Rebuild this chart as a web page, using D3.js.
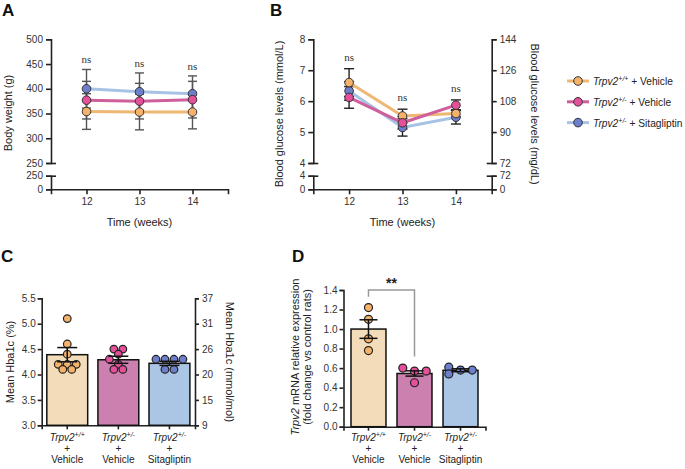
<!DOCTYPE html>
<html>
<head>
<meta charset="utf-8">
<script src="https://cdn.jsdelivr.net/npm/d3@7"></script>
<style>
body { margin: 0; background: #fff; }
svg text { font-family: "Liberation Sans", Arial, sans-serif; fill: #222; }
.axis path, .axis line { stroke: #222; stroke-width: 1.6; }
.axis text { font-size: 10px; fill: #333; }
.ns { font-family: "Liberation Serif", "DejaVu Serif", serif !important; font-size: 11px; fill: #333; }
</style>
</head>
<body>
<div id="vis"></div>
<script>
// ---- data ----
var weeks = [12, 13, 14];

var weightWt = [354, 353, 353], weightWtErr = [36, 36, 34];
var weightHet = [377, 375, 378], weightHetErr = [38, 36, 37];
var weightSita = [400, 394, 390], weightSitaErr = [39, 38, 36];
var weightTicks = [250, 300, 350, 400, 450, 500];

var glucoseWt = [6.6, 5.52, 5.6], glucoseWtErr = [0.45, 0.22, 0.12];
var glucoseHet = [6.12, 5.3, 5.87], glucoseHetErr = [0.35, 0.2, 0.17];
var glucoseSita = [6.33, 5.15, 5.48], glucoseSitaErr = [0.3, 0.28, 0.22];
var glucoseTicks = [4, 5, 6, 7, 8];
var mgPerMmol = 18;

var groupSup = ['+/+', '+/-', '+/-'];
var groupTreat = ['Vehicle', 'Vehicle', 'Sitagliptin'];

var hbaMean = [4.39, 4.29, 4.22], hbaSem = [0.14, 0.07, 0.04];
var hbaWt = [5.1, 4.6, 4.4, 4.2, 4.2, 4.2, 4.1, 4.1];
var hbaHet = [4.5, 4.5, 4.4, 4.3, 4.2, 4.1, 4.1];
var hbaSita = [4.3, 4.3, 4.3, 4.3, 4.1, 4.1];
var hbaTicks = [3.0, 3.5, 4.0, 4.5, 5.0, 5.5];
var hbaMmolTicks = [9, 15, 20, 26, 31, 37];

var mrnaMean = [1.0, 0.545, 0.578], mrnaSem = [0.095, 0.027, 0.015];
var mrnaWt = [1.22, 1.1, 0.9, 0.78];
var mrnaHet = [0.6, 0.57, 0.57, 0.45];
var mrnaSita = [0.61, 0.58, 0.58, 0.54];
var mrnaTicks = [0, 0.2, 0.4, 0.6, 0.8, 1.0, 1.2, 1.4];

// ---- colours ----
var lineCol = ['#efb774', '#cf5f9c', '#a6c3e6'];
var dotCol = ['#f5b26b', '#e4509a', '#6d7fcb'];
var barCol = ['#f2dcb9', '#cc80b0', '#aac6e4'];

var svg = d3.select('#vis').append('svg')
	.attr('width', 685)
	.attr('height', 469);

function letter(x, y, t) {
	svg.append('text').attr('x', x).attr('y', y)
		.style('font-size', '17px').style('font-weight', 'bold').style('fill', '#111')
		.text(t);
}

function rotLabel(x, y, angle, t) {
	return svg.append('text')
		.attr('transform', 'translate(' + x + ',' + y + ') rotate(' + angle + ')')
		.attr('text-anchor', 'middle')
		.style('font-size', '11px')
		.text(t);
}

function capTick(axisG, value) {
	axisG.selectAll('.tick').filter(function(d) { return d === value; })
		.select('line').attr('x1', -5).attr('x2', 5);
}

// ---------------- line panels (A, B) ----------------
function linePanel(opt) {
	var x = d3.scaleLinear().domain([11.33, 14.67]).range([opt.left, opt.right]);
	var yTop = d3.scaleLinear().domain(opt.upper).range([163, 39.3]);
	var yLow = d3.scaleLinear().domain([0, opt.upper[0]]).range([189.3, 175.7]);
	var fmt = d3.format('d');

	var ax = svg.append('g').attr('class', 'axis')
		.attr('transform', 'translate(' + opt.left + ',0)')
		.call(d3.axisLeft(yTop).tickValues(opt.ticks).tickFormat(fmt).tickSizeOuter(0).tickSize(5).tickPadding(3));
	capTick(ax, opt.upper[0]);
	var ax2 = svg.append('g').attr('class', 'axis')
		.attr('transform', 'translate(' + opt.left + ',0)')
		.call(d3.axisLeft(yLow).tickValues([0, opt.upper[0]]).tickFormat(fmt).tickSizeOuter(0).tickSize(5).tickPadding(3));
	capTick(ax2, opt.upper[0]);

	if (opt.rightFmt) {
		var ar = svg.append('g').attr('class', 'axis')
			.attr('transform', 'translate(' + opt.right + ',0)')
			.call(d3.axisRight(yTop).tickValues(opt.ticks).tickSizeOuter(0).tickSize(5).tickPadding(3).tickFormat(opt.rightFmt));
		capTick(ar, opt.upper[0]);
		var ar2 = svg.append('g').attr('class', 'axis')
			.attr('transform', 'translate(' + opt.right + ',0)')
			.call(d3.axisRight(yLow).tickValues([0, opt.upper[0]]).tickSizeOuter(0).tickSize(5).tickPadding(3).tickFormat(opt.rightFmt));
		capTick(ar2, opt.upper[0]);
	}

	svg.append('g').attr('class', 'axis')
		.attr('transform', 'translate(0,189.3)')
		.call(d3.axisBottom(x).tickValues(weeks).tickSizeOuter(0).tickSize(5).tickPadding(4).tickFormat(fmt));

	svg.append('text')
		.attr('x', x(13)).attr('y', 225.5)
		.attr('text-anchor', 'middle')
		.style('font-size', '11px')
		.text('Time (weeks)');

	var g = svg.append('g');
	var order = [2, 0, 1];

	// error bars
	order.forEach(function(s) {
		var ser = opt.series[s];
		weeks.forEach(function(w, i) {
			var cx = x(w), lo = yTop(ser.vals[i] - ser.errs[i]), hi = yTop(ser.vals[i] + ser.errs[i]);
			g.append('line').attr('x1', cx).attr('x2', cx).attr('y1', lo).attr('y2', hi)
				.attr('stroke', opt.errCol).attr('stroke-width', 1.4);
			[lo, hi].forEach(function(yy) {
				g.append('line').attr('x1', cx - opt.cap).attr('x2', cx + opt.cap).attr('y1', yy).attr('y2', yy)
					.attr('stroke', opt.errCol).attr('stroke-width', 1.4);
			});
		});
	});

	var line = d3.line()
		.x(function(d) { return x(d[0]); })
		.y(function(d) { return yTop(d[1]); });

	order.forEach(function(s) {
		var ser = opt.series[s];
		g.append('path')
			.datum(weeks.map(function(w, i) { return [w, ser.vals[i]]; }))
			.attr('d', line)
			.attr('fill', 'none')
			.attr('stroke', lineCol[s])
			.attr('stroke-width', 3);
	});
	order.forEach(function(s) {
		var ser = opt.series[s];
		g.selectAll(null)
			.data(weeks.map(function(w, i) { return [w, ser.vals[i]]; }))
			.enter().append('circle')
			.attr('cx', function(d) { return x(d[0]); })
			.attr('cy', function(d) { return yTop(d[1]); })
			.attr('r', 4.3)
			.attr('fill', dotCol[s])
			.attr('stroke', '#333')
			.attr('stroke-width', 1);
	});

	// ns labels above the highest cap
	weeks.forEach(function(w, i) {
		var top = d3.max(opt.series, function(ser) { return ser.vals[i] + ser.errs[i]; });
		svg.append('text').attr('class', 'ns')
			.attr('x', x(w)).attr('y', yTop(top) - opt.nsGap)
			.attr('text-anchor', 'middle')
			.text('ns');
	});
}

letter(2, 16, 'A');
linePanel({
	left: 51, right: 228,
	upper: [250, 500], ticks: weightTicks,
	series: [
		{ vals: weightWt, errs: weightWtErr },
		{ vals: weightHet, errs: weightHetErr },
		{ vals: weightSita, errs: weightSitaErr }
	],
	errCol: '#555', cap: 4.5, nsGap: 6
});
rotLabel(12, 113, -90, 'Body weight (g)');

letter(270, 16, 'B');
linePanel({
	left: 313.3, right: 491.7,
	upper: [4, 8], ticks: glucoseTicks,
	rightFmt: function(d) { return d * mgPerMmol; },
	series: [
		{ vals: glucoseWt, errs: glucoseWtErr },
		{ vals: glucoseHet, errs: glucoseHetErr },
		{ vals: glucoseSita, errs: glucoseSitaErr }
	],
	errCol: '#222', cap: 5, nsGap: 8
});
rotLabel(283, 114, -90, 'Blood glucose levels (mmol/L)');
rotLabel(531, 114, 90, 'Blood glucose levels (mg/dL)');

// legend
var legend = svg.append('g').selectAll('g')
	.data([0, 1, 2])
	.enter().append('g')
	.attr('transform', function(d, i) { return 'translate(567,' + (81 + i * 20.8) + ')'; });
legend.append('line')
	.attr('x1', 0).attr('x2', 22)
	.attr('stroke', function(d) { return lineCol[d]; })
	.attr('stroke-width', 3);
legend.append('circle')
	.attr('cx', 11).attr('r', 4.3)
	.attr('fill', function(d) { return dotCol[d]; })
	.attr('stroke', '#333').attr('stroke-width', 1);
var lt = legend.append('text').attr('x', 26).attr('y', 4).style('font-size', '10.2px');
lt.append('tspan').style('font-style', 'italic').text('Trpv2');
lt.append('tspan').style('font-style', 'italic').style('font-size', '7px').attr('dy', -4)
	.text(function(d) { return groupSup[d]; });
lt.append('tspan').attr('dy', 4).text(function(d) { return ' + ' + groupTreat[d]; });

// ---------------- bar panels (C, D) ----------------
// rows of points with close values are spread side by side
function swarm(vals, y, step, r) {
	var pts = vals.map(function(v, i) { return { v: v, y: y(v), i: i }; });
	pts.sort(function(a, b) { return a.y - b.y; });
	var rows = [], cur = null;
	pts.forEach(function(p) {
		if (cur && p.y - cur[0].y < 3.5) cur.push(p);
		else { cur = [p]; rows.push(cur); }
	});
	var placed = [];
	rows.forEach(function(row) {
		row.forEach(function(p, k) {
			var base = (k - (row.length - 1) / 2) * step;
			var tries = [0, -1, 1, -2, 2];
			for (var t = 0; t < tries.length; t++) {
				var ox = base + tries[t] * step;
				var hit = placed.some(function(q) {
					return Math.hypot(q.dx - ox, q.y - p.y) < 1.6 * r;
				});
				if (!hit) { p.dx = ox; break; }
			}
			if (p.dx === undefined) p.dx = base;
			placed.push(p);
		});
	});
	return pts;
}

function groupLabels(x, y0) {
	[0, 1, 2].forEach(function(i) {
		var cx = x(i) + x.bandwidth() / 2;
		var t = svg.append('text').attr('x', cx).attr('y', y0)
			.attr('text-anchor', 'middle').style('font-size', '10px');
		t.append('tspan').style('font-style', 'italic').text('Trpv2');
		t.append('tspan').style('font-style', 'italic').style('font-size', '7px').attr('dy', -4).text(groupSup[i]);
		svg.append('text').attr('x', cx).attr('y', y0 + 11)
			.attr('text-anchor', 'middle').style('font-size', '10px').text('+');
		svg.append('text').attr('x', cx).attr('y', y0 + 22.5)
			.attr('text-anchor', 'middle').style('font-size', '10px').text(groupTreat[i]);
	});
}

function barPanel(opt) {
	var x = d3.scaleBand().domain([0, 1, 2])
		.range([opt.left, opt.right])
		.paddingInner(opt.padIn).paddingOuter(opt.padOut);
	var y = d3.scaleLinear().domain(opt.domain).range([opt.bottom, opt.top]);

	svg.append('g').attr('class', 'axis')
		.attr('transform', 'translate(' + opt.left + ',0)')
		.call(d3.axisLeft(y).tickValues(opt.ticks).tickSizeOuter(0).tickSize(4).tickPadding(2).tickFormat(d3.format('.1f')));
	if (opt.rightLabels) {
		svg.append('g').attr('class', 'axis')
			.attr('transform', 'translate(' + opt.right + ',0)')
			.call(d3.axisRight(y).tickValues(opt.ticks).tickSizeOuter(0).tickSize(4).tickPadding(3)
				.tickFormat(function(d, i) { return opt.rightLabels[i]; }));
	}
	svg.append('g').attr('class', 'axis')
		.attr('transform', 'translate(0,' + opt.bottom + ')')
		.call(d3.axisBottom(x).tickSizeOuter(0).tickSize(4).tickFormat(''));

	var g = svg.append('g');
	g.selectAll('rect')
		.data(opt.mean)
		.enter().append('rect')
		.attr('x', function(d, i) { return x(i); })
		.attr('y', function(d) { return y(d); })
		.attr('width', x.bandwidth())
		.attr('height', function(d) { return opt.bottom - y(d); })
		.attr('fill', function(d, i) { return barCol[i]; })
		.attr('stroke', '#111')
		.attr('stroke-width', 1.5);

	opt.points.forEach(function(vals, i) {
		var cx = x(i) + x.bandwidth() / 2;
		var pts = swarm(vals, y, opt.step, opt.r);
		g.selectAll(null).data(pts).enter().append('circle')
			.attr('cx', function(p) { return cx + p.dx; })
			.attr('cy', function(p) { return p.y; })
			.attr('r', opt.r)
			.attr('fill', dotCol[i])
			.attr('stroke', '#222')
			.attr('stroke-width', 1.2);
	});

	opt.mean.forEach(function(m, i) {
		var cx = x(i) + x.bandwidth() / 2;
		var lo = y(m - opt.sem[i]), hi = y(m + opt.sem[i]);
		g.append('line').attr('x1', cx).attr('x2', cx).attr('y1', lo).attr('y2', hi)
			.attr('stroke', '#111').attr('stroke-width', 1.5);
		[lo, hi].forEach(function(yy) {
			g.append('line').attr('x1', cx - opt.cap).attr('x2', cx + opt.cap).attr('y1', yy).attr('y2', yy)
				.attr('stroke', '#111').attr('stroke-width', 1.5);
		});
	});

	groupLabels(x, 440.5);
	return { x: x, y: y };
}

letter(1, 262, 'C');
barPanel({
	left: 41.7, right: 195, top: 298.3, bottom: 425.3,
	padIn: 0.2, padOut: 0.1,
	domain: [3.0, 5.5], ticks: hbaTicks, rightLabels: hbaMmolTicks,
	mean: hbaMean, sem: hbaSem,
	points: [hbaWt, hbaHet, hbaSita],
	step: 9, r: 3.8, cap: 10
});
rotLabel(14, 362, -90, 'Mean Hba1c (%)');
rotLabel(226, 362, 90, 'Mean Hba1c (mmol/mol)');

letter(292, 262, 'D');
var d = barPanel({
	left: 343.5, right: 485.5, top: 290, bottom: 426.7,
	padIn: 0.24, padOut: 0.163,
	domain: [0, 1.4], ticks: mrnaTicks,
	mean: mrnaMean, sem: mrnaSem,
	points: [mrnaWt, mrnaHet, mrnaSita],
	step: 11.7, r: 4, cap: 9
});

// significance bracket between first two groups
var c0 = d.x(0) + d.x.bandwidth() / 2, c1 = d.x(1) + d.x.bandwidth() / 2;
svg.append('path')
	.attr('d', 'M' + c0 + ',' + d.y(1.33) + 'V' + d.y(1.4) + 'H' + c1 + 'V' + d.y(0.72))
	.attr('fill', 'none')
	.attr('stroke', '#999')
	.attr('stroke-width', 1.5);
svg.append('text')
	.attr('x', (c0 + c1) / 2).attr('y', d.y(1.4) - 2)
	.attr('text-anchor', 'middle')
	.style('font-size', '14px').style('font-weight', 'bold')
	.text('**');

var dl = svg.append('text')
	.attr('transform', 'translate(299,357) rotate(-90)')
	.attr('text-anchor', 'middle')
	.style('font-size', '11px');
dl.append('tspan').style('font-style', 'italic').text('Trpv2');
dl.append('tspan').text(' mRNA relative expression');
rotLabel(311, 357, -90, '(fold change vs control rats)');
</script>
</body>
</html>
